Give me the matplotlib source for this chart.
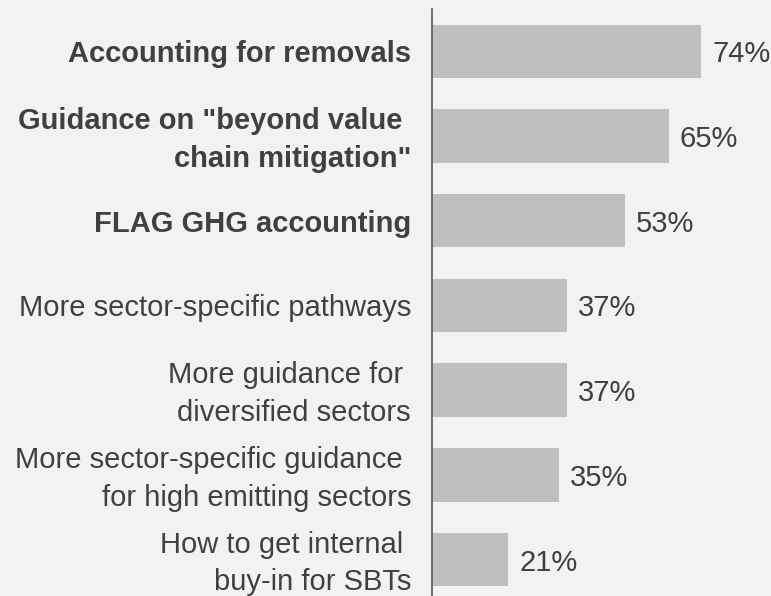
import matplotlib
matplotlib.use("Agg")
import matplotlib.pyplot as plt
import matplotlib.transforms as mtransforms

categories = [
    "Accounting for removals",
    "Guidance on \"beyond value \nchain mitigation\"",
    "FLAG GHG accounting",
    "More sector-specific pathways",
    "More guidance for \ndiversified sectors",
    "More sector-specific guidance \nfor high emitting sectors",
    "How to get internal \nbuy-in for SBTs",
]
values = [74, 65, 53, 37, 37, 35, 21]
bold_flags = [True, True, True, False, False, False, False]

plt.rcParams['font.family'] = ['Liberation Sans', 'DejaVu Sans']
bg = "#f2f2f2"
txt = "#404040"

W, H = 771, 596
fig = plt.figure(figsize=(W / 100, H / 100), dpi=100, facecolor=bg)
x0 = 432
ax = fig.add_axes([x0 / W, 0, (W - x0) / W, (H - 9) / H])
ax.set_facecolor(bg)

ys = list(range(len(categories)))
ax.barh(ys, values, height=0.63, color="#bfbfbf", zorder=2)
ax.set_ylim(6.43, -0.5)
ax.set_xlim(0, (W - x0) / 3.64)

fs = 21
shift = mtransforms.ScaledTranslation(0, -3 / 100, fig.dpi_scale_trans)
for y, v in zip(ys, values):
    ax.text(v + 3.0, y, f"{v}%", va="center", ha="left", fontsize=fs, color=txt,
            transform=ax.transData + shift)

for y, lab, b in zip(ys, categories, bold_flags):
    dy = 4 if "\n" in lab else 0
    ax.annotate(lab, xy=(0, y), xycoords=("axes fraction", "data"),
                xytext=(-21, dy), textcoords="offset pixels",
                ha="right", va="center_baseline", fontsize=fs, color=txt,
                fontweight="bold" if b else "normal", linespacing=1.45,
                annotation_clip=False)

ax.set_yticks([])
ax.set_xticks([])
for s in ["top", "right", "bottom"]:
    ax.spines[s].set_visible(False)
ax.spines["left"].set_color("#595959")
ax.spines["left"].set_linewidth(1.2)

fig.savefig("out.png", dpi=100, facecolor=bg)
